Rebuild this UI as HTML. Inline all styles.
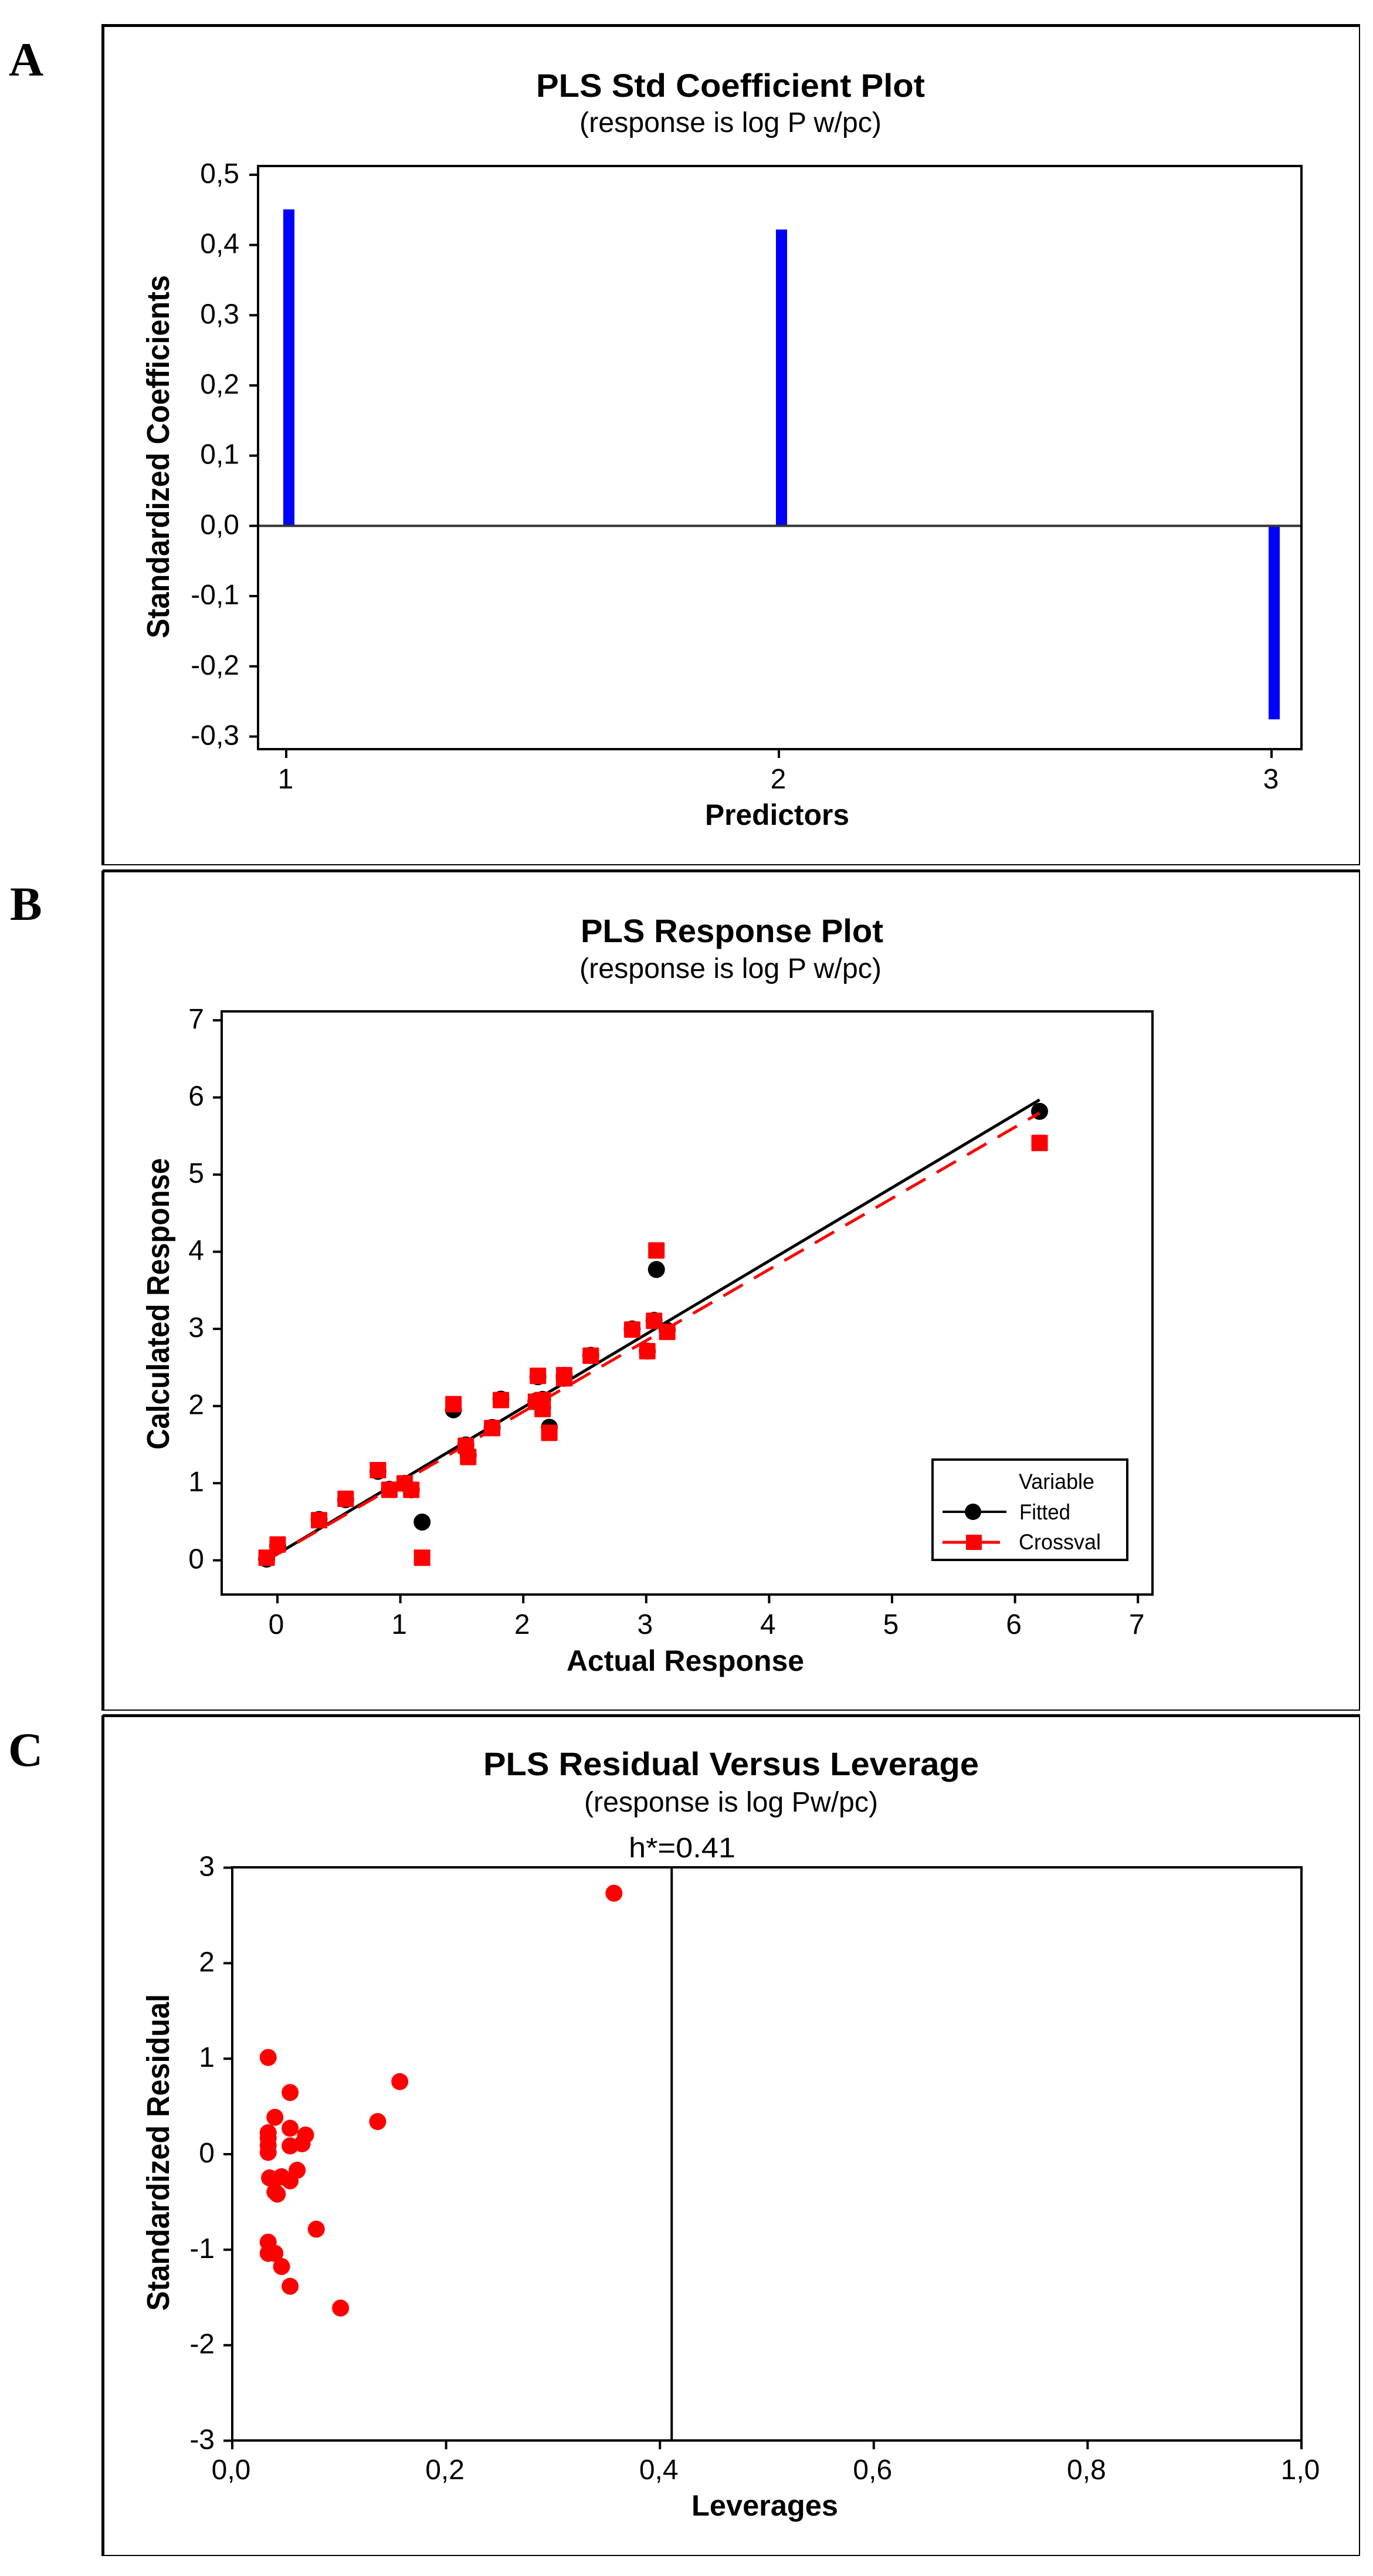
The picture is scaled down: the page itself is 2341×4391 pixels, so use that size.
<!DOCTYPE html>
<html lang="en">
<head>
<meta charset="utf-8">
<title>PLS plots</title>
<style>
html,body{margin:0;padding:0;background:#fff;width:2341px;height:4391px;overflow:hidden}
svg{display:block}
text{font-family:"Liberation Sans",sans-serif;fill:#000}
.t{font-weight:bold;font-size:56px}
.s{font-size:48px}
.a{font-weight:bold;font-size:50px}
.y{font-weight:bold;font-size:54px}
.k{font-size:48px}
.l{font-size:37px}
.p{font-family:"Liberation Serif",serif;font-weight:bold;font-size:82px}
</style>
</head>
<body>
<svg id="fig" xmlns="http://www.w3.org/2000/svg" width="2341" height="4391" viewBox="0 0 2341 4391">
<rect width="2341" height="4391" fill="#fff"/>

<g fill="#000">
<rect x="173" y="41" width="2146" height="5"/><rect x="173" y="41" width="5" height="1434"/><rect x="2317" y="41" width="2" height="1434"/><rect x="173" y="1473" width="2146" height="2"/>
</g>
<g fill="#000">
<rect x="175" y="1482" width="2144" height="5"/><rect x="173" y="1484" width="5" height="1432"/><rect x="2317" y="1482" width="2" height="1434"/><rect x="173" y="2914" width="2146" height="2"/>
</g>
<g fill="#000">
<rect x="175" y="2922" width="2144" height="5"/><rect x="173" y="2924" width="5" height="1433"/><rect x="2317" y="2922" width="2" height="1435"/><rect x="173" y="4355" width="2146" height="2"/>
</g>

<text class="p" x="15" y="129">A</text>
<text class="p" x="17" y="1568">B</text>
<text class="p" x="14" y="3010">C</text>

<text class="t" x="914" y="165" textLength="663" lengthAdjust="spacingAndGlyphs">PLS Std Coefficient Plot</text>
<text class="s" x="988" y="225" textLength="515" lengthAdjust="spacingAndGlyphs">(response is log P w/pc)</text>
<text class="a" x="1202" y="1406" textLength="246" lengthAdjust="spacingAndGlyphs">Predictors</text>
<text class="y" transform="translate(288 1088) rotate(-90)" textLength="619" lengthAdjust="spacingAndGlyphs">Standardized Coefficients</text>

<text class="t" x="990" y="1606" textLength="516" lengthAdjust="spacingAndGlyphs">PLS Response Plot</text>
<text class="s" x="988" y="1667" textLength="515" lengthAdjust="spacingAndGlyphs">(response is log P w/pc)</text>
<text class="a" x="966" y="2848" textLength="405" lengthAdjust="spacingAndGlyphs">Actual Response</text>
<text class="y" transform="translate(288 2471) rotate(-90)" textLength="497" lengthAdjust="spacingAndGlyphs">Calculated Response</text>

<text class="t" x="824" y="3026" textLength="845" lengthAdjust="spacingAndGlyphs">PLS Residual Versus Leverage</text>
<text class="s" x="996" y="3088" textLength="501" lengthAdjust="spacingAndGlyphs">(response is log Pw/pc)</text>
<text class="k" x="1072" y="3166" textLength="182" lengthAdjust="spacingAndGlyphs">h*=0.41</text>
<text class="a" x="1179" y="4288" textLength="250" lengthAdjust="spacingAndGlyphs">Leverages</text>
<text class="y" transform="translate(288 3939) rotate(-90)" textLength="540" lengthAdjust="spacingAndGlyphs">Standardized Residual</text>

<g id="marks"></g>

<g>
<rect x="1590" y="2488" width="332" height="171" fill="#fff" stroke="#000" stroke-width="4"/>
<text class="l" x="1737" y="2538" textLength="129" lengthAdjust="spacingAndGlyphs">Variable</text>
<line x1="1607" y1="2577" x2="1716" y2="2577" stroke="#000" stroke-width="4"/>
<circle cx="1659" cy="2577" r="14" fill="#000"/>
<text class="l" x="1738" y="2590" textLength="87" lengthAdjust="spacingAndGlyphs">Fitted</text>
<line x1="1607" y1="2629" x2="1705" y2="2629" stroke="#f00" stroke-width="5"/>
<rect x="1647" y="2616" width="27" height="26" fill="#f00"/>
<text class="l" x="1737" y="2641" textLength="140" lengthAdjust="spacingAndGlyphs">Crossval</text>
</g>
</svg>

<script>
// Chart A data
const aPredictors = [1, 2, 3];
const aCoefficients = [0.4507, 0.422, -0.2755];
const aYTicks = [0.5, 0.4, 0.3, 0.2, 0.1, 0, -0.1, -0.2, -0.3];
const aYTickLabels = ["0,5", "0,4", "0,3", "0,2", "0,1", "0,0", "-0,1", "-0,2", "-0,3"];
const aXTickLabels = ["1", "2", "3"];

// Chart B data
const bActual = [-0.088, 0.002, 0.339, 0.555, 0.818, 0.911, 1.035, 1.089, 1.177, 1.432, 1.533, 1.552, 1.747, 1.818, 2.103, 2.119, 2.157, 2.157, 2.212, 2.333, 2.333, 2.549, 2.886, 3.009, 3.064, 3.083, 3.171, 6.2];
const bFitted = [0.016, 0.187, 0.529, 0.787, 1.154, 0.921, 0.998, 0.914, 0.496, 1.951, 1.496, 1.36, 1.722, 2.089, 2.064, 2.38, 2.086, 1.98, 1.725, 2.398, 2.36, 2.657, 2.999, 2.713, 3.111, 3.77, 2.98, 5.82];
const bCrossval = [0.034, 0.205, 0.521, 0.798, 1.169, 0.914, 0.998, 0.914, 0.034, 2.024, 1.485, 1.34, 1.714, 2.078, 2.056, 2.391, 2.078, 1.962, 1.653, 2.4, 2.36, 2.653, 2.991, 2.711, 3.104, 4.017, 2.962, 5.41];
const bFittedLineX = [-0.088, 6.2];
const bFittedLineY = [0.0, 5.97];
const bCrossvalLineX = [-0.088, 6.2];
const bCrossvalLineY = [0.0, 5.8];
const bYTicks = [0, 1, 2, 3, 4, 5, 6, 7];
const bXTicks = [0, 1, 2, 3, 4, 5, 6, 7];
const bTickLabels = ["0", "1", "2", "3", "4", "5", "6", "7"];

// Chart C data
const cLeverage = [0.0336, 0.0541, 0.1567, 0.0399, 0.0541, 0.136, 0.0336, 0.0336, 0.0336, 0.0336, 0.0686, 0.0653, 0.0541, 0.0607, 0.0461, 0.0541, 0.0349, 0.0399, 0.0421, 0.0786, 0.0336, 0.0336, 0.0399, 0.0461, 0.0541, 0.1013, 0.357];
const cResidual = [1.013, 0.646, 0.76, 0.386, 0.272, 0.342, 0.225, 0.17, 0.092, 0.019, 0.201, 0.109, 0.087, -0.168, -0.236, -0.279, -0.248, -0.394, -0.418, -0.785, -0.921, -1.038, -1.038, -1.176, -1.383, -1.611, 2.733];
const cThreshold = [0.411];
const cYTicks = [3, 2, 1, 0, -1, -2, -3];
const cYTickLabels = ["3", "2", "1", "0", "-1", "-2", "-3"];
const cXTicks = [0, 0.2, 0.4, 0.6, 0.8, 1];
const cXTickLabels = ["0,0", "0,2", "0,4", "0,6", "0,8", "1,0"];

const NS = "http://www.w3.org/2000/svg";
const root = document.getElementById("marks");

function mk(tag, attrs, parent) {
  const el = document.createElementNS(NS, tag);
  for (const k in attrs) el.setAttribute(k, attrs[k]);
  (parent || root).appendChild(el);
  return el;
}
function group(name) {
  const g = mk("g", {});
  
  
  return g;
}
function plotBox(name, x0, y0, x1, y1, parent) {
  const r = mk("rect", {x: x0, y: y0, width: x1 - x0, height: y1 - y0, fill: "none", stroke: "#000", "stroke-width": 4}, parent);
  
  
}
function yAxis(prefix, ticks, labels, sy, axisX, labelRight, parent) {
  ticks.forEach(function (v, i) {
    const t = mk("line", {x1: axisX - 15, x2: axisX, y1: sy(v), y2: sy(v), stroke: "#000", "stroke-width": 4}, parent);
    
    
    const l = mk("text", {x: labelRight, y: sy(v) + 14, "text-anchor": "end", class: "k"}, parent);
    
    
    l.textContent = labels[i];
  });
}
function xAxis(prefix, ticks, labels, sx, axisY, labelY, labelShift, parent) {
  ticks.forEach(function (v, i) {
    const t = mk("line", {x1: sx(v), x2: sx(v), y1: axisY, y2: axisY + 15, stroke: "#000", "stroke-width": 4}, parent);
    
    
    const l = mk("text", {x: sx(v) + labelShift, y: labelY, "text-anchor": "middle", class: "k"}, parent);
    
    
    l.textContent = labels[i];
  });
}

// ---- Chart A ----
const ax = function (v) { return 488 + (v - 1) * 840; };
const ay = function (v) { return 896.4 - v * 1197; };
const gA = group("chart-a-plot");
aPredictors.forEach(function (p, i) {
  const y0 = ay(0), y1 = ay(aCoefficients[i]);
  const b = mk("rect", {x: ax(p) - 5, y: Math.min(y0, y1), width: 19, height: Math.abs(y1 - y0), fill: "#0000ff"}, gA);
  
  
});
const zero = mk("line", {x1: 440, x2: 2219, y1: ay(0), y2: ay(0), stroke: "#333", "stroke-width": 4}, gA);


plotBox("chart-a-plot-border", 440, 283, 2219, 1277, gA);
yAxis("chart-a", aYTicks, aYTickLabels, ay, 440, 408, gA);
xAxis("chart-a", aPredictors, aXTickLabels, ax, 1277, 1344, -1, gA);

// ---- Chart B ----
const bx = function (v) { return 473 + v * 209.6; };
const by = function (v) { return 2659.7 - v * 131.5; };
const gB = group("chart-b-plot");
plotBox("chart-b-plot-border", 378, 1724, 1965, 2718, gB);
yAxis("chart-b", bYTicks, bTickLabels, by, 378, 348, gB);
xAxis("chart-b", bXTicks, bTickLabels, bx, 2718, 2785, -2, gB);
const fitLine = mk("line", {x1: bx(bFittedLineX[0]), y1: by(bFittedLineY[0]), x2: bx(bFittedLineX[1]), y2: by(bFittedLineY[1]), stroke: "#000", "stroke-width": 5}, gB);


bActual.forEach(function (v, i) {
  const c = mk("circle", {cx: bx(v), cy: by(bFitted[i]), r: 14.5, fill: "#000"}, gB);
  
  
});
const cvLine = mk("line", {x1: bx(bCrossvalLineX[0]), y1: by(bCrossvalLineY[0]), x2: bx(bCrossvalLineX[1]), y2: by(bCrossvalLineY[1]), stroke: "#f00", "stroke-width": 5, "stroke-dasharray": "38 22"}, gB);


bActual.forEach(function (v, i) {
  const s = mk("rect", {x: bx(v) - 14, y: by(bCrossval[i]) - 14, width: 28, height: 28, rx: 1.5, fill: "#f00"}, gB);
  
  
});

// ---- Chart C ----
const cx = function (v) { return 396 + v * 1823; };
const cy = function (v) { return 3672 - v * 162.8; };
const gC = group("chart-c-plot");
plotBox("chart-c-plot-border", 396, 3183, 2219, 4160, gC);
yAxis("chart-c", cYTicks, cYTickLabels, cy, 396, 366, gC);
xAxis("chart-c", cXTicks, cXTickLabels, cx, 4160, 4226, -2, gC);
const hLine = mk("line", {x1: cx(cThreshold[0]), x2: cx(cThreshold[0]), y1: 3183, y2: 4160, stroke: "#000", "stroke-width": 4}, gC);


cLeverage.forEach(function (v, i) {
  const c = mk("circle", {cx: cx(v), cy: cy(cResidual[i]), r: 14.5, fill: "#f00"}, gC);
  
  
});
</script>
</body>
</html>
